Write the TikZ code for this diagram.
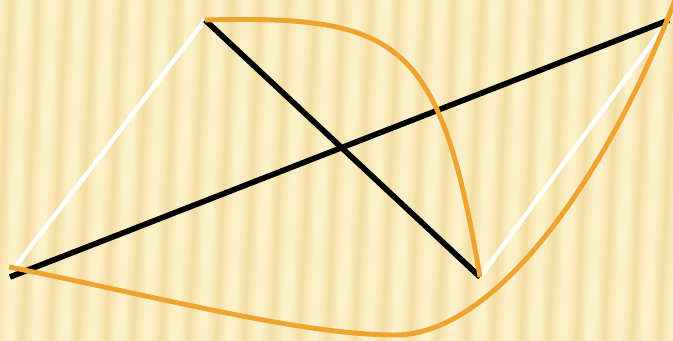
\documentclass[tikz,border=0pt]{standalone}
\usepackage{tikz}
\usetikzlibrary{calc}
\usepackage{xcolor}
\definecolor{Cream}{HTML}{FCF0C8}
\definecolor{Band}{HTML}{EFD48A}
\definecolor{Curve}{HTML}{F0A430}

\begin{document}
\begin{tikzpicture}[x=0.02cm,y=-0.02cm,
  bandwide/.style={Band,line width=0.36cm,opacity=0.18},
  band/.style={Band,line width=0.22cm,opacity=0.22},
  bandcore/.style={Band,line width=0.09cm,opacity=0.3},
  diag/.style={black,line width=3.2pt},
  edge/.style={white,line width=2.5pt},
  arcline/.style={Curve,line width=2.8pt}]
\fill[Cream] (0,0) rectangle (673,341);
\useasboundingbox (0,0) rectangle (673,341);
\begin{scope}
\clip (0,0) rectangle (673,341);
\foreach \i in {-1,...,25}
{
  \draw[bandwide] ({\i*27.7-5},341) -- ({\i*27.7+11},0);
  \draw[band] ({\i*27.7-5},341) -- ({\i*27.7+11},0);
  \draw[bandcore] ({\i*27.7-5},341) -- ({\i*27.7+11},0);
}
\end{scope}
\coordinate (top) at (205,20);
\coordinate (left) at (12,271);
\coordinate (leftb) at (10,277);
\coordinate (lefto) at (9,267);
\coordinate (low) at (480,277);
\coordinate (right) at (669,20);
\coordinate (righto) at (675,0);
\coordinate (dip) at (395,335);
\draw[edge] (left) -- (top);
\draw[edge] (low) -- (right);
\draw[diag] (top) -- (low);
\draw[diag] (leftb) -- (right);
\draw[arcline] (top) .. controls (400,15) and (440,40) .. (low);
\draw[arcline] (lefto) .. controls (150,295) and (300,335) .. (dip)
  .. controls (500,335) and (612,165) .. (righto);
\end{tikzpicture}
\end{document}
